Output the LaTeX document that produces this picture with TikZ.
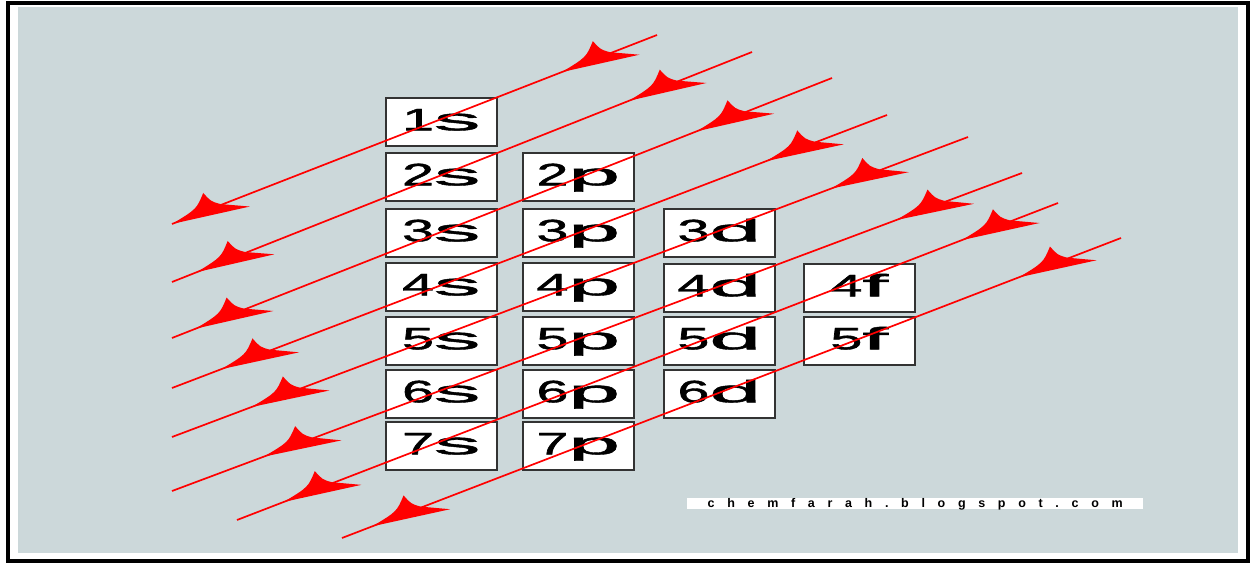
\documentclass[tikz,border=0pt]{standalone}
\usepackage{graphicx}
\usepackage{fontspec}
\setmainfont{Liberation Sans}
\newfontfamily\lblfont[FakeBold=1.3]{Liberation Sans}
\usetikzlibrary{decorations.markings}
\definecolor{panelgray}{RGB}{204,216,218}
\newcommand\orbhead{\fill[red] (0pt,0pt) .. controls (-28pt,-5pt) .. (-40pt,-17.6pt) .. controls (-44pt,-7pt) .. (-52pt,-1pt) -- (-78.5pt,12pt) .. controls (-40pt,5.5pt) .. (0pt,0pt) -- cycle;}
\newcommand\orblabel[2]{\scalebox{1.85}[1]{#1}\scalebox{3}[1]{#2}}
\begin{document}
\begin{tikzpicture}[x=1pt,y=-1pt,
  obox/.style={draw=black!80, fill=white, line width=1.6pt, minimum width=111pt,
    minimum height=48pt, inner sep=0pt, anchor=north west, text height=25pt,
    text depth=8pt, font=\lblfont\fontsize{31pt}{31pt}\selectfont},
  fillline/.style 2 args={red, line width=1.7pt, postaction={decorate,
    decoration={markings, mark=at position #1 with {\orbhead},
                          mark=at position #2 with {\orbhead}}}}]
\useasboundingbox (0,0) rectangle (1251,564);
\fill[white] (0,0) rectangle (1251,564);
\draw[black, line width=4pt] (8,3) rectangle (1248,561);
\fill[panelgray] (18,7) rectangle (1238,553);

% orbital boxes
\node[obox] (b1s) at (385,97) {\orblabel{1}{s}};
\node[obox] (b2s) at (385,152) {\orblabel{2}{s}};
\node[obox] (b3s) at (385,208) {\orblabel{3}{s}};
\node[obox] (b4s) at (385,262) {\orblabel{4}{s}};
\node[obox] (b5s) at (385,316) {\orblabel{5}{s}};
\node[obox] (b6s) at (385,369) {\orblabel{6}{s}};
\node[obox] (b7s) at (385,421) {\orblabel{7}{s}};
\node[obox] (b2p) at (522,152) {\orblabel{2}{p}};
\node[obox] (b3p) at (522,208) {\orblabel{3}{p}};
\node[obox] (b4p) at (522,262) {\orblabel{4}{p}};
\node[obox] (b5p) at (522,316) {\orblabel{5}{p}};
\node[obox] (b6p) at (522,369) {\orblabel{6}{p}};
\node[obox] (b7p) at (522,421) {\orblabel{7}{p}};
\node[obox] (b3d) at (663,208) {\orblabel{3}{d}};
\node[obox] (b4d) at (663,263) {\orblabel{4}{d}};
\node[obox] (b5d) at (663,316) {\orblabel{5}{d}};
\node[obox] (b6d) at (663,369) {\orblabel{6}{d}};
\node[obox] (b4f) at (803,263) {\orblabel{4}{f}};
\node[obox] (b5f) at (803,316) {\orblabel{5}{f}};

% filling-order arrows
\coordinate (s1) at (657,35);   \coordinate (e1) at (172,224);
\coordinate (s2) at (752,52);   \coordinate (e2) at (172,282);
\coordinate (s3) at (832,78);   \coordinate (e3) at (172,338);
\coordinate (s4) at (887,115);  \coordinate (e4) at (172,388);
\coordinate (s5) at (968,137);  \coordinate (e5) at (172,437);
\coordinate (s6) at (1022,173); \coordinate (e6) at (172,491);
\coordinate (s7) at (1058,203); \coordinate (e7) at (237,520);
\coordinate (s8) at (1121,238); \coordinate (e8) at (342,538);
\draw[fillline={0.196}{0.9995}] (s1) -- (e1);
\draw[fillline={0.212}{0.957}] (s2) -- (e2);
\draw[fillline={0.205}{0.964}] (s3) -- (e3);
\draw[fillline={0.169}{0.931}] (s4) -- (e4);
\draw[fillline={0.172}{0.900}] (s5) -- (e5);
\draw[fillline={0.148}{0.892}] (s6) -- (e6);
\draw[fillline={0.117}{0.943}] (s7) -- (e7);
\draw[fillline={0.131}{0.961}] (s8) -- (e8);

% watermark
\node[fill=white, inner sep=0pt, minimum width=456pt, minimum height=11pt,
  anchor=north west, text height=9pt, text depth=2pt,
  font=\fontsize{12.5pt}{12.5pt}\selectfont\bfseries] (wm) at (687,498)
  {\makebox[415pt]{c\hfill h\hfill e\hfill m\hfill f\hfill a\hfill r\hfill a\hfill h\hfill .\hfill b\hfill l\hfill o\hfill g\hfill s\hfill p\hfill o\hfill t\hfill .\hfill c\hfill o\hfill m}};
\end{tikzpicture}
\end{document}
